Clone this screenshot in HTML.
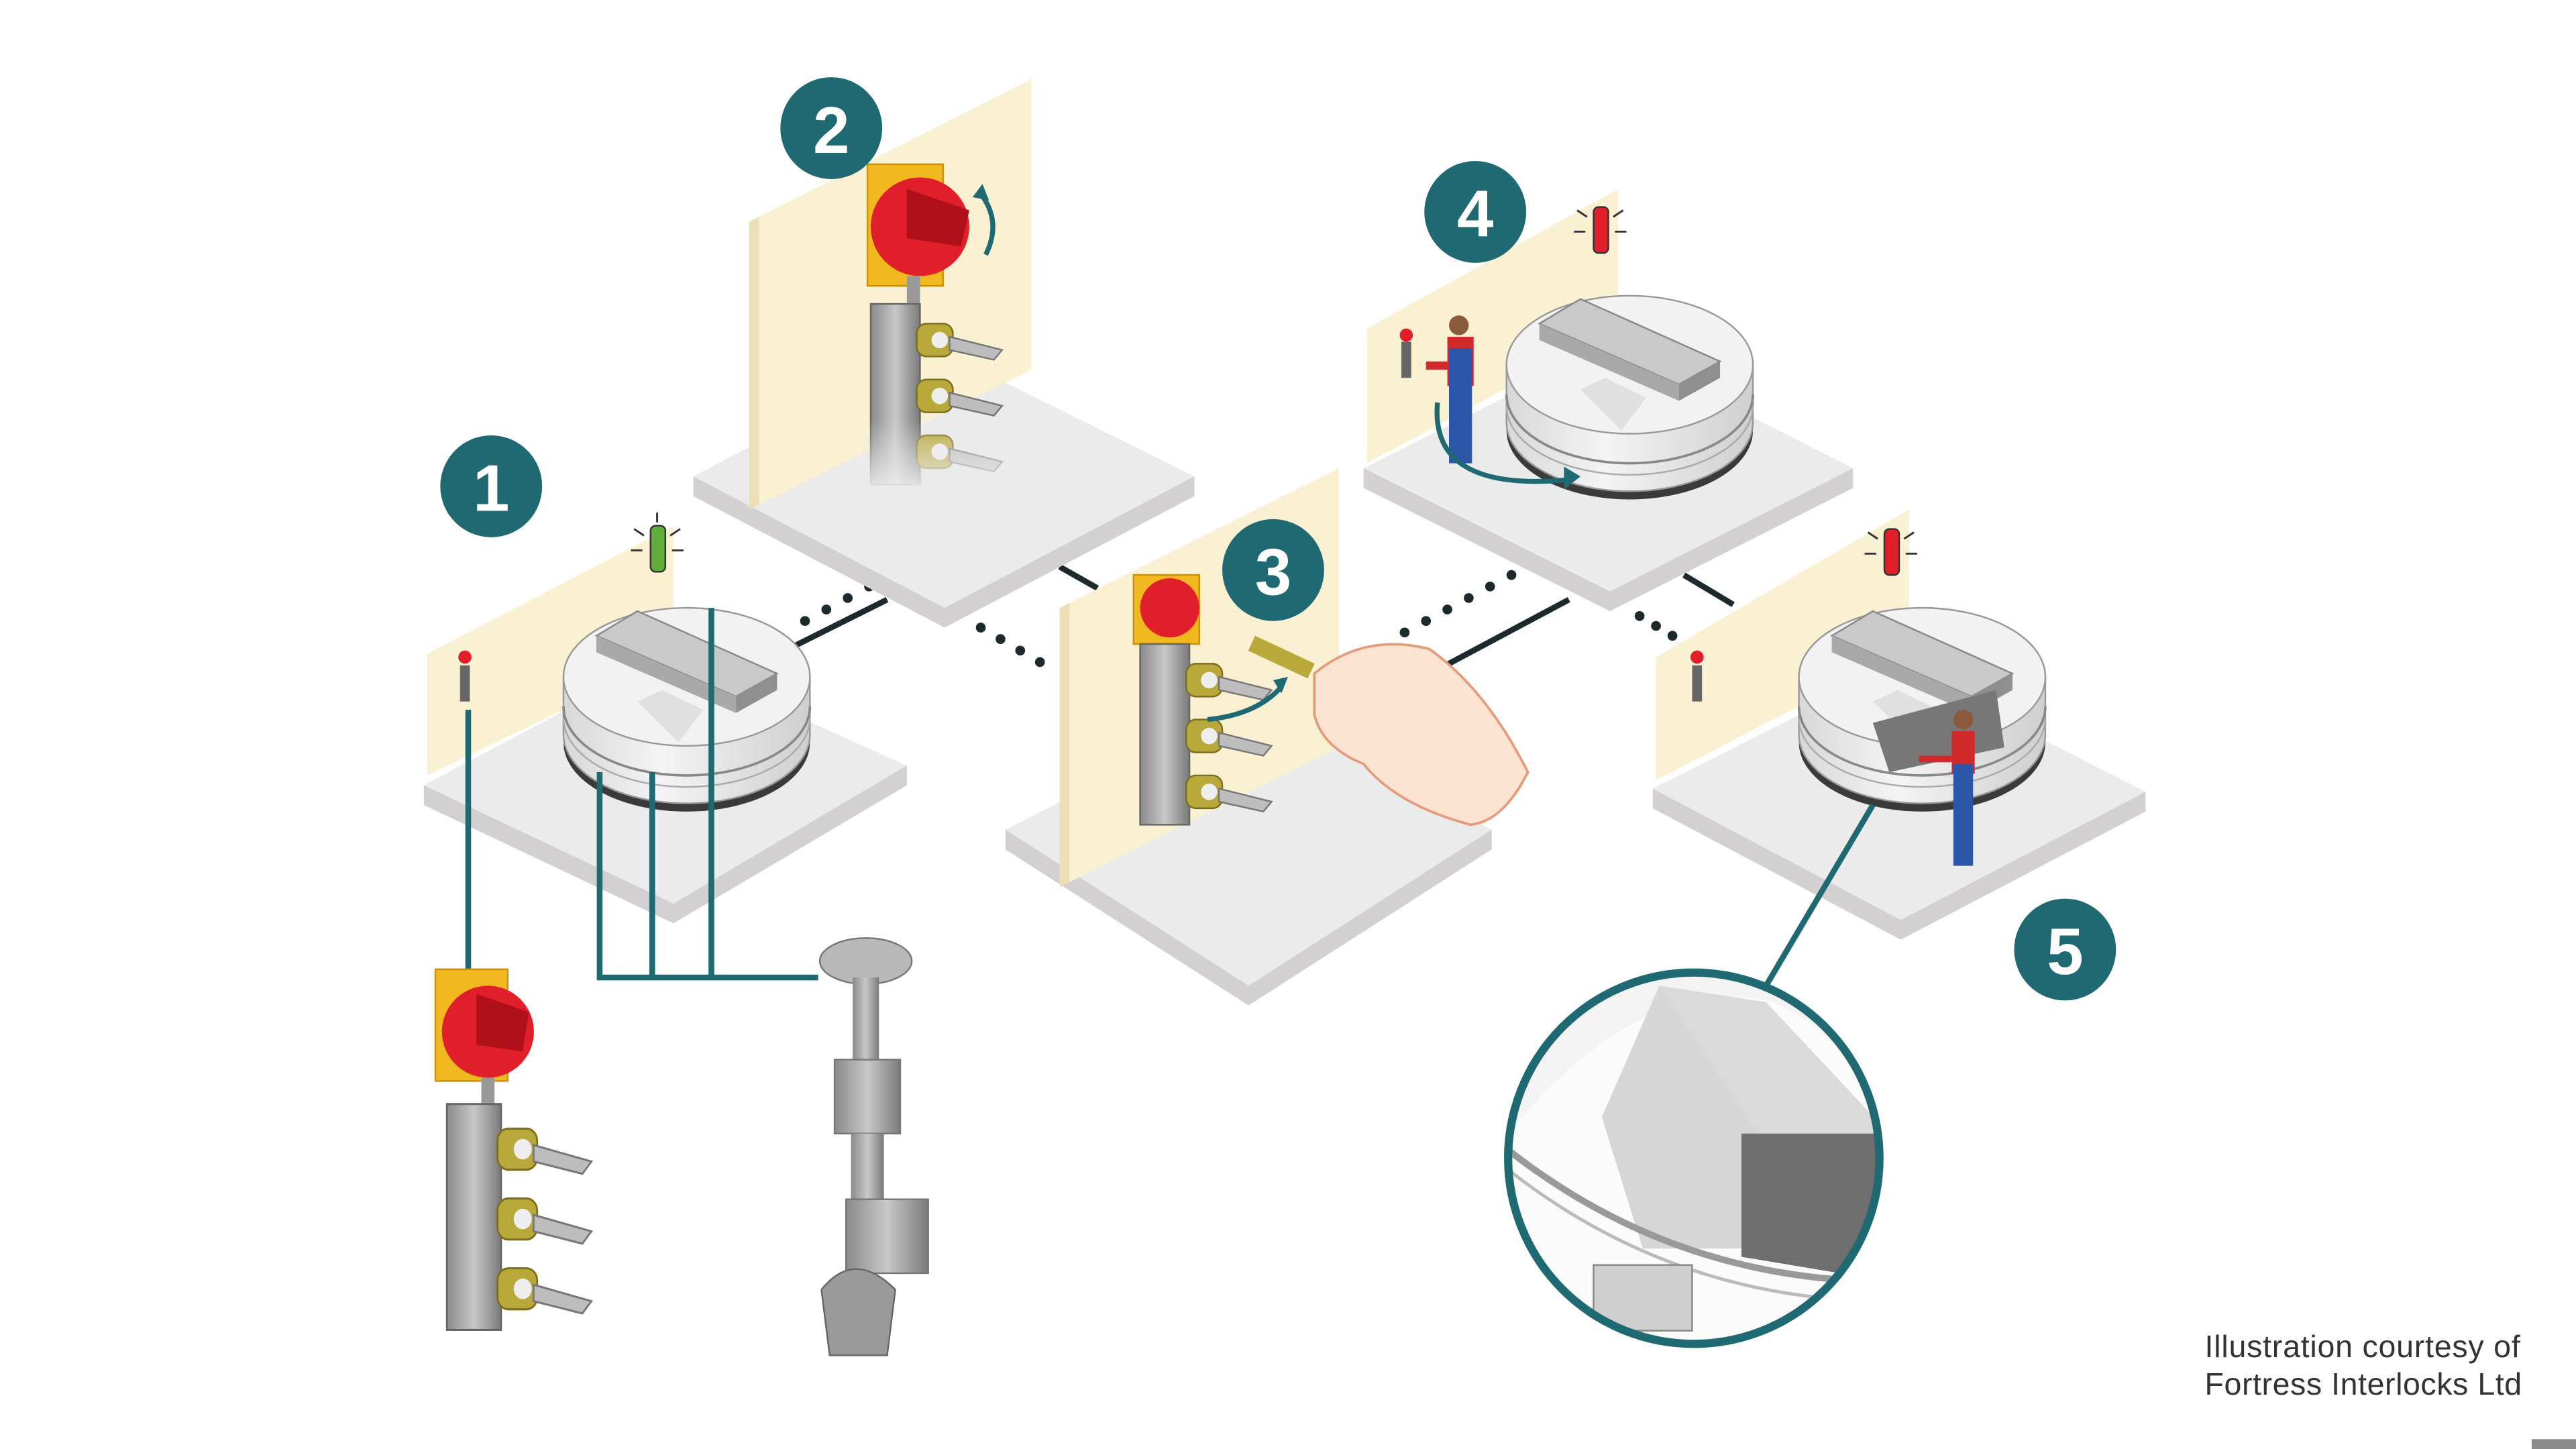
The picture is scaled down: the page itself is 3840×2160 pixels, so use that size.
<!DOCTYPE html>
<html><head><meta charset="utf-8"><style>
html,body{margin:0;padding:0;background:#fff;width:3840px;height:2160px;overflow:hidden}
svg{display:block}
</style></head><body>
<svg width="3840" height="2160" viewBox="0 0 1568 882" preserveAspectRatio="none" xmlns="http://www.w3.org/2000/svg">
<rect width="1568" height="882" fill="#fff"/>
<defs>
<linearGradient id="cyl" x1="0" x2="1"><stop offset="0" stop-color="#d8d8d8"/><stop offset="0.4" stop-color="#f4f4f4"/><stop offset="1" stop-color="#cfcfcf"/></linearGradient>
<linearGradient id="metal" x1="0" x2="1"><stop offset="0" stop-color="#8a8a8a"/><stop offset="0.5" stop-color="#c8c8c8"/><stop offset="1" stop-color="#7a7a7a"/></linearGradient>
<linearGradient id="fade" x1="0" y1="0" x2="0" y2="1"><stop offset="0" stop-color="#ebebeb" stop-opacity="0"/><stop offset="1" stop-color="#ebebeb" stop-opacity="1"/></linearGradient>
<g id="mach">
<ellipse cx="0" cy="40" rx="75" ry="42" fill="#3a3a3a"/>
<path d="M-75 0 L-75 35 A75 42 0 0 0 75 35 L75 0 Z" fill="url(#cyl)" stroke="#999" stroke-width="1"/>
<path d="M-75 18 A75 42 0 0 0 75 18" fill="none" stroke="#888" stroke-width="1.5"/>
<path d="M-75 25 A75 42 0 0 0 75 25" fill="none" stroke="#aaa" stroke-width="1"/>
<ellipse cx="0" cy="0" rx="75" ry="42" fill="#f2f2f2" stroke="#999"/>
<path d="M-55 -25 L-30 -40 L55 -2 L30 12 Z" fill="#c9c9c9" stroke="#888"/>
<path d="M-55 -25 L-55 -15 L30 22 L30 12 Z" fill="#a9a9a9"/>
<path d="M30 12 L55 -2 L55 8 L30 22 Z" fill="#8f8f8f"/>
<path d="M-30 15 L-15 8 L10 20 L-5 40 Z" fill="#e0e0e0"/>
</g>
<g id="keyblock">
<rect x="0" y="0" width="30" height="110" fill="url(#metal)" stroke="#666"/>
<g fill="#b9a93a" stroke="#7a6e1e"><rect x="28" y="12" width="22" height="20" rx="6"/><rect x="28" y="46" width="22" height="20" rx="6"/><rect x="28" y="80" width="22" height="20" rx="6"/></g>
<g fill="#bdbdbd" stroke="#777"><path d="M48 20 L80 28 L75 34 L48 28Z"/><path d="M48 54 L80 62 L75 68 L48 62Z"/><path d="M48 88 L80 96 L75 102 L48 96Z"/></g>
<g fill="#eee"><circle cx="42" cy="22" r="5"/><circle cx="42" cy="56" r="5"/><circle cx="42" cy="90" r="5"/></g>
</g>
</defs>

<g stroke="#1c2a2e" stroke-width="3.5">
<line x1="480" y1="395" x2="540" y2="365"/>
<line x1="645" y1="345" x2="668" y2="358"/>
<line x1="880" y1="405" x2="955" y2="365"/>
<line x1="1025" y1="350" x2="1055" y2="368"/>
</g>
<g fill="#1c2a2e">
<circle cx="490" cy="378" r="3"/><circle cx="503" cy="371" r="3"/><circle cx="516" cy="364" r="3"/><circle cx="529" cy="357" r="3"/>
<circle cx="597" cy="382" r="3"/><circle cx="609" cy="389" r="3"/><circle cx="621" cy="396" r="3"/><circle cx="633" cy="403" r="3"/>
<circle cx="855" cy="385" r="3"/><circle cx="868" cy="378" r="3"/><circle cx="881" cy="371" r="3"/><circle cx="894" cy="364" r="3"/><circle cx="907" cy="357" r="3"/><circle cx="920" cy="350" r="3"/>
<circle cx="998" cy="375" r="3"/><circle cx="1008" cy="381" r="3"/><circle cx="1018" cy="387" r="3"/>
</g>

<path d="M422 290 L422 302 L575 382 L727 302 L727 290 Z" fill="#d2d0d0"/>
<path d="M422 290 L570 212 L727 290 L575 370 Z" fill="#ebebeb"/>
<path d="M456 135 L628 48 L628 225 L456 310 Z" fill="#faf1d2"/>
<path d="M456 135 L462 132 L462 307 L456 310 Z" fill="#ecdfb8"/>
<path d="M830 285 L830 297 L980 372 L1128 297 L1128 285 Z" fill="#d2d0d0"/>
<path d="M830 285 L980 210 L1128 285 L980 360 Z" fill="#ebebeb"/>
<path d="M832 200 L985 115 L985 200 L832 282 Z" fill="#faf1d2"/>
<path d="M258 478 L258 490 L410 562 L552 478 L552 466 Z" fill="#d2d0d0"/>
<path d="M258 478 L405 400 L552 466 L410 550 Z" fill="#ebebeb"/>
<path d="M260 398 L410 320 L410 400 L260 472 Z" fill="#faf1d2"/>
<path d="M612 505 L612 517 L760 612 L908 517 L908 505 Z" fill="#d2d0d0"/>
<path d="M612 505 L760 430 L908 505 L760 600 Z" fill="#ebebeb"/>
<path d="M645 370 L815 285 L815 455 L645 540 Z" fill="#faf1d2"/>
<path d="M645 370 L651 367 L651 537 L645 540 Z" fill="#ecdfb8"/>
<path d="M1006 480 L1006 492 L1157 572 L1306 494 L1306 482 Z" fill="#d2d0d0"/>
<path d="M1006 480 L1155 405 L1306 482 L1157 560 Z" fill="#ebebeb"/>
<path d="M1008 400 L1162 310 L1162 395 L1008 475 Z" fill="#faf1d2"/>

<use href="#mach" x="418" y="412"/>
<use href="#mach" x="992" y="222"/>
<use href="#mach" x="1170" y="412"/>
<path d="M1140 440 L1215 420 L1220 455 L1150 470 Z" fill="#777"/>

<g fill="#666"><rect x="280" y="405" width="6" height="22"/><rect x="853" y="208" width="6" height="22"/><rect x="1030" y="405" width="6" height="22"/></g>
<g fill="#e01f2a"><circle cx="283" cy="400" r="4"/><circle cx="856" cy="204" r="4"/><circle cx="1033" cy="400" r="4"/></g>

<g><rect x="396" y="320" width="9" height="28" rx="3" fill="#5fae3a" stroke="#333"/><g stroke="#333" stroke-width="1.2"><line x1="386" y1="322" x2="392" y2="326"/><line x1="414" y1="322" x2="408" y2="326"/><line x1="384" y1="335" x2="391" y2="335"/><line x1="416" y1="335" x2="409" y2="335"/><line x1="400" y1="312" x2="400" y2="318"/></g></g>
<g><rect x="970" y="126" width="9" height="28" rx="3" fill="#e01f2a" stroke="#333"/><g stroke="#333" stroke-width="1.2"><line x1="960" y1="128" x2="966" y2="132"/><line x1="988" y1="128" x2="982" y2="132"/><line x1="958" y1="141" x2="965" y2="141"/><line x1="990" y1="141" x2="983" y2="141"/></g></g>
<g><rect x="1147" y="322" width="9" height="28" rx="3" fill="#e01f2a" stroke="#333"/><g stroke="#333" stroke-width="1.2"><line x1="1137" y1="324" x2="1143" y2="328"/><line x1="1165" y1="324" x2="1159" y2="328"/><line x1="1135" y1="337" x2="1142" y2="337"/><line x1="1167" y1="337" x2="1160" y2="337"/></g></g>

<rect x="528" y="100" width="46" height="74" fill="#f2b820" stroke="#c88f10"/>
<circle cx="560" cy="138" r="30" fill="#e01f2a"/>
<path d="M552 115 L590 128 L585 150 L552 145 Z" fill="#b0101a"/>
<path d="M597 118 Q610 135 600 155" fill="none" stroke="#1f6a72" stroke-width="3"/>
<path d="M592 120 L598 112 L602 122 Z" fill="#1f6a72"/>
<rect x="552" y="168" width="8" height="20" fill="#999"/>
<use href="#keyblock" x="530" y="185"/>
<rect x="525" y="255" width="100" height="45" fill="url(#fade)"/>

<rect x="690" y="350" width="40" height="42" fill="#f2b820" stroke="#c88f10"/>
<circle cx="712" cy="370" r="18" fill="#e01f2a"/>
<use href="#keyblock" x="694" y="392"/>
<path d="M735 438 Q765 435 780 418" fill="none" stroke="#1f6a72" stroke-width="3"/>
<path d="M775 414 L784 412 L780 422 Z" fill="#1f6a72"/>
<rect x="760" y="395" width="40" height="10" fill="#b9a93a" transform="rotate(25 780 400)"/>
<path d="M800 410 Q830 385 870 395 Q905 420 930 470 Q915 500 895 502 Q850 490 830 465 Q805 455 800 435 Z" fill="#fde3d2" stroke="#e59a7a" stroke-width="1.5"/>

<g><circle cx="888" cy="198" r="6" fill="#8a5a3a"/><rect x="881" y="205" width="16" height="30" fill="#d22a2a"/><rect x="882" y="212" width="14" height="70" fill="#2c56a8"/><rect x="868" y="220" width="14" height="5" fill="#d22a2a"/></g>
<path d="M875 245 Q870 300 955 292" fill="none" stroke="#1f6a72" stroke-width="3"/>
<path d="M952 284 L962 290 L952 298 Z" fill="#1f6a72"/>
<g><circle cx="1195" cy="438" r="6" fill="#8a5a3a"/><rect x="1188" y="445" width="14" height="26" fill="#d22a2a"/><rect x="1189" y="465" width="12" height="62" fill="#2c56a8"/><rect x="1168" y="460" width="20" height="4" fill="#d22a2a"/></g>

<g fill="#1f6a72"><circle cx="299" cy="296" r="31"/><circle cx="506" cy="78" r="31"/><circle cx="775" cy="347" r="31"/><circle cx="898" cy="129" r="31"/><circle cx="1257" cy="578" r="31"/></g>
<g fill="#fff" font-family="Liberation Sans, sans-serif" font-weight="bold" font-size="40" text-anchor="middle">
<text x="299" y="311">1</text><text x="506" y="93">2</text><text x="775" y="362">3</text><text x="898" y="144">4</text><text x="1257" y="593">5</text></g>

<g stroke="#1f6a72" stroke-width="3.5" fill="none">
<line x1="285" y1="432" x2="285" y2="590"/>
<path d="M365 470 L365 595 L498 595"/>
<path d="M397 470 L397 595"/>
<path d="M433 370 L433 595"/>
<line x1="1140" y1="490" x2="1075" y2="600"/>
</g>

<rect x="265" y="590" width="44" height="68" fill="#f2b820" stroke="#c88f10"/>
<circle cx="297" cy="628" r="28" fill="#e01f2a"/>
<path d="M290 605 L322 616 L318 640 L290 636 Z" fill="#b0101a"/>
<rect x="293" y="656" width="8" height="20" fill="#999"/>
<g transform="translate(272 672) scale(1.1 1.25)"><use href="#keyblock"/></g>

<ellipse cx="527" cy="585" rx="28" ry="14" fill="#b8b8b8" stroke="#777"/>
<rect x="519" y="595" width="16" height="50" fill="url(#metal)"/>
<rect x="508" y="645" width="40" height="45" fill="url(#metal)" stroke="#777"/>
<rect x="518" y="690" width="20" height="40" fill="url(#metal)"/>
<rect x="515" y="730" width="50" height="45" fill="url(#metal)" stroke="#777"/>
<path d="M500 785 Q520 760 545 785 L540 825 L505 825 Z" fill="#9a9a9a" stroke="#666"/>

<circle cx="1031" cy="705" r="113" fill="#f3f3f3"/>
<clipPath id="zc"><circle cx="1031" cy="705" r="113"/></clipPath>
<g clip-path="url(#zc)">
<path d="M918 690 Q1000 590 1080 610 L1150 650 L1150 820 L918 820 Z" fill="#fbfbfb"/>
<path d="M1010 600 L1075 610 L1150 690 L1070 690 Z" fill="#dadada"/>
<path d="M975 680 L1010 600 L1070 690 L1060 760 L1000 760 Z" fill="#d6d6d6"/>
<path d="M1060 690 L1150 690 L1150 780 L1060 765 Z" fill="#6f6f6f"/>
<path d="M918 700 Q1020 780 1150 780" fill="none" stroke="#999" stroke-width="4"/>
<path d="M918 712 Q1020 792 1150 792" fill="none" stroke="#bbb" stroke-width="2"/>
<rect x="970" y="770" width="60" height="40" fill="#cfcfcf" stroke="#888"/>
</g>
<circle cx="1031" cy="705" r="113" fill="none" stroke="#1f6a72" stroke-width="5"/>

<text x="1342" y="826" font-family="Liberation Sans, sans-serif" font-size="19" textLength="192" fill="#333">Illustration courtesy of</text>
<text x="1342" y="849" font-family="Liberation Sans, sans-serif" font-size="19" textLength="193" fill="#333">Fortress Interlocks Ltd</text>
<rect x="1541" y="876" width="27" height="6" fill="#8a8a8a"/>
</svg>
</body></html>
